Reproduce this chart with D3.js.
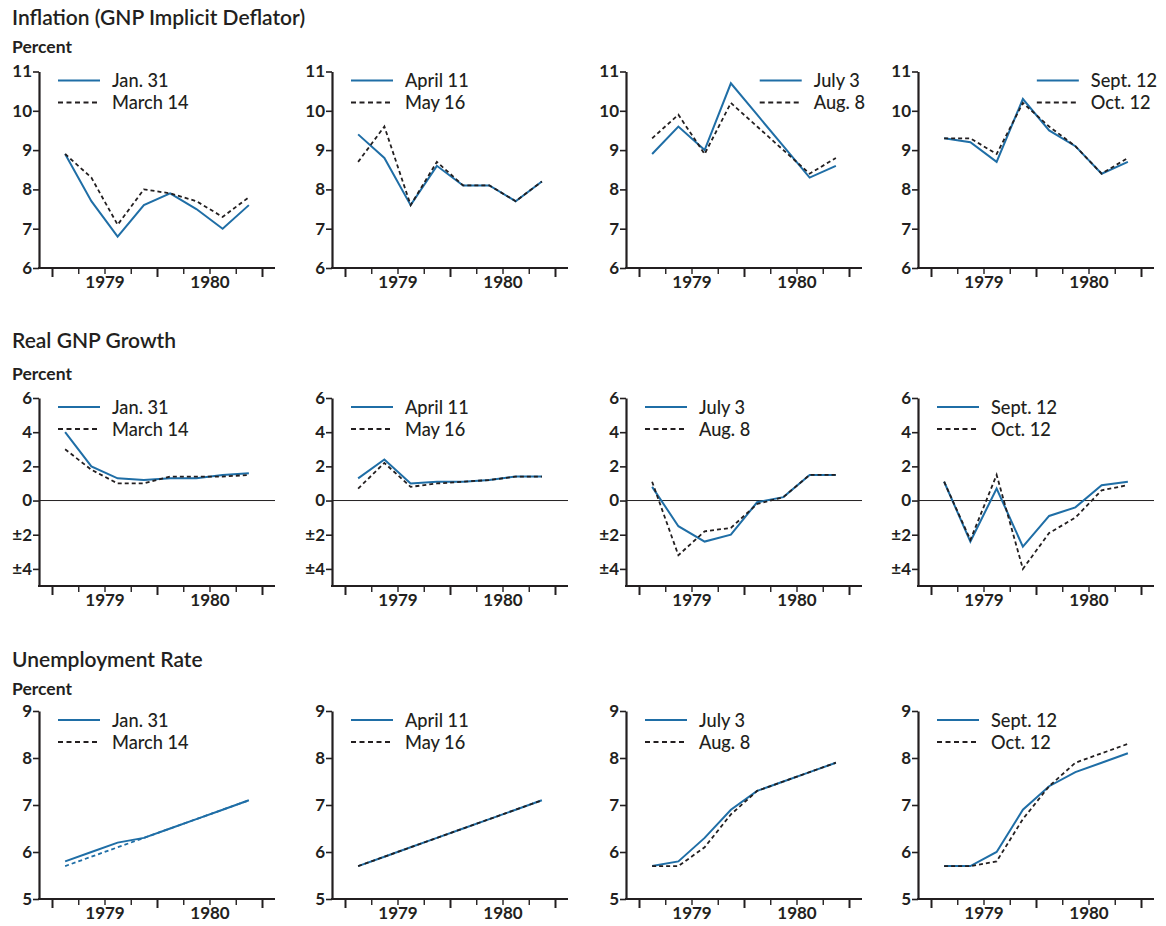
<!DOCTYPE html>
<html>
<head>
<meta charset="utf-8">
<script src="https://cdn.jsdelivr.net/npm/d3@7"></script>
<style>
  body { margin: 0; background: #fff; }
  svg { display: block; font-family: Lato, "Open Sans", sans-serif; }
  .tick text { font-family: Lato, sans-serif; }
</style>
</head>
<body>
<div id="chart"></div>
<script>
// quarters 1979Q1 .. 1980Q4, one value per quarter
var years = ["1979", "1980"];

var inflationTicks = [6, 7, 8, 9, 10, 11];
var gnpTicks = [-4, -2, 0, 2, 4, 6];
var gnpTickLabels = ["±4", "±2", "0", "2", "4", "6"];
var unempTicks = [5, 6, 7, 8, 9];

var forecastPairs = [
  ["Jan. 31", "March 14"],
  ["April 11", "May 16"],
  ["July 3", "Aug. 8"],
  ["Sept. 12", "Oct. 12"]
];

var inflationJan31 = [8.9, 7.7, 6.8, 7.6, 7.9, 7.5, 7.0, 7.6];
var inflationMar14 = [8.9, 8.3, 7.1, 8.0, 7.9, 7.7, 7.3, 7.8];
var inflationApr11 = [9.4, 8.8, 7.6, 8.6, 8.1, 8.1, 7.7, 8.2];
var inflationMay16 = [8.7, 9.6, 7.6, 8.7, 8.1, 8.1, 7.7, 8.2];
var inflationJul3 = [8.9, 9.6, 9.0, 10.7, 9.9, 9.1, 8.3, 8.6];
var inflationAug8 = [9.3, 9.9, 8.9, 10.2, 9.6, 9.0, 8.4, 8.8];
var inflationSep12 = [9.3, 9.2, 8.7, 10.3, 9.5, 9.1, 8.4, 8.7];
var inflationOct12 = [9.3, 9.3, 8.9, 10.2, 9.6, 9.1, 8.4, 8.8];

var gnpJan31 = [4.0, 2.0, 1.3, 1.2, 1.3, 1.3, 1.5, 1.6];
var gnpMar14 = [3.0, 1.8, 1.0, 1.0, 1.4, 1.4, 1.4, 1.5];
var gnpApr11 = [1.3, 2.4, 1.0, 1.1, 1.1, 1.2, 1.4, 1.4];
var gnpMay16 = [0.7, 2.2, 0.8, 1.0, 1.1, 1.2, 1.4, 1.4];
var gnpJul3 = [0.8, -1.5, -2.4, -2.0, -0.1, 0.2, 1.5, 1.5];
var gnpAug8 = [1.1, -3.2, -1.8, -1.6, -0.2, 0.2, 1.5, 1.5];
var gnpSep12 = [1.1, -2.4, 0.7, -2.7, -0.9, -0.4, 0.9, 1.1];
var gnpOct12 = [1.1, -2.3, 1.5, -4.0, -1.9, -1.0, 0.6, 0.9];

var unempJan31 = [5.8, 6.0, 6.2, 6.3, 6.5, 6.7, 6.9, 7.1];
var unempMar14 = [5.7, 5.9, 6.1, 6.3, 6.5, 6.7, 6.9, 7.1];
var unempApr11 = [5.7, 5.9, 6.1, 6.3, 6.5, 6.7, 6.9, 7.1];
var unempMay16 = [5.7, 5.9, 6.1, 6.3, 6.5, 6.7, 6.9, 7.1];
var unempJul3 = [5.7, 5.8, 6.3, 6.9, 7.3, 7.5, 7.7, 7.9];
var unempAug8 = [5.7, 5.7, 6.1, 6.8, 7.3, 7.5, 7.7, 7.9];
var unempSep12 = [5.7, 5.7, 6.0, 6.9, 7.4, 7.7, 7.9, 8.1];
var unempOct12 = [5.7, 5.7, 5.8, 6.7, 7.4, 7.9, 8.1, 8.3];

var rows = [
  {
    title: "Inflation (GNP Implicit Deflator)",
    domain: [6, 11], ticks: inflationTicks, labels: inflationTicks.map(String),
    solid: [inflationJan31, inflationApr11, inflationJul3, inflationSep12],
    dashed: [inflationMar14, inflationMay16, inflationAug8, inflationOct12]
  },
  {
    title: "Real GNP Growth",
    domain: [-5, 6], ticks: gnpTicks, labels: gnpTickLabels, zero: true,
    solid: [gnpJan31, gnpApr11, gnpJul3, gnpSep12],
    dashed: [gnpMar14, gnpMay16, gnpAug8, gnpOct12]
  },
  {
    title: "Unemployment Rate",
    domain: [5, 9], ticks: unempTicks, labels: unempTicks.map(String),
    solid: [unempJan31, unempApr11, unempJul3, unempSep12],
    dashed: [unempMar14, unempMay16, unempAug8, unempOct12]
  }
];

//******************
// Layout
//******************
var width = 1166;
var height = 926;
var blue = "#1f6ea6";
var ink = "#231f20";

var panelX = [39, 332, 626, 918];   // y-axis position of each column
var panelW = 236;                   // length of bottom axis
var rowTop = [71.5, 398, 711];
var rowBottom = [268, 586, 899];
var titleY = [25, 348, 667];
var percentY = [53, 380, 695];

var svg = d3
  .select("#chart")
  .append("svg")
  .attr("width", width)
  .attr("height", height);

var x = d3.scaleLinear().domain([0, 8]).range([13, 223]);

var line = (y) =>
  d3
    .line()
    .x((d, i) => x(i + 0.5))
    .y((d) => y(d));

rows.forEach((row, r) => {
  svg
    .append("text")
    .attr("x", 12)
    .attr("y", titleY[r])
    .attr("font-size", 21)
    .attr("font-weight", 600)
    .attr("fill", ink)
    .text(row.title);
  svg
    .append("text")
    .attr("x", 12)
    .attr("y", percentY[r])
    .attr("font-size", 17.5)
    .attr("font-weight", 700)
    .attr("fill", ink)
    .text("Percent");

  var y = d3.scaleLinear().domain(row.domain).range([rowBottom[r], rowTop[r]]);

  panelX.forEach((px, c) => {
    var g = svg.append("g").attr("transform", `translate(${px},0)`);

    // y axis
    g.append("g")
      .call(
        d3
          .axisLeft(y)
          .tickValues(row.ticks)
          .tickSize(6)
          .tickSizeOuter(0)
          .tickPadding(1)
          .tickFormat((d, i) => row.labels[i])
      )
      .call((g) => g.select(".domain").attr("stroke", ink).attr("stroke-width", 2.2))
      .call((g) => g.selectAll(".tick line").attr("stroke", ink).attr("stroke-width", 1.6))
      .call((g) =>
        g
          .selectAll(".tick text")
          .attr("font-size", 17)
          .attr("font-weight", 700)
          .attr("fill", ink)
      );

    // bottom axis
    var xAxisG = g.append("g").attr("transform", `translate(0,${rowBottom[r]})`);
    xAxisG
      .append("line")
      .attr("x1", -1)
      .attr("x2", panelW)
      .attr("stroke", ink)
      .attr("stroke-width", 2.2);
    xAxisG
      .append("g")
      .call(d3.axisBottom(x).tickValues([0, 4, 8]).tickSize(9).tickFormat(""))
      .call((g) => g.select(".domain").remove())
      .call((g) => g.selectAll(".tick line").attr("stroke", ink).attr("stroke-width", 2));
    xAxisG
      .append("g")
      .call(d3.axisBottom(x).tickValues([1, 2, 3, 5, 6, 7]).tickSize(6).tickFormat(""))
      .call((g) => g.select(".domain").remove())
      .call((g) => g.selectAll(".tick line").attr("stroke", ink).attr("stroke-width", 1.4));
    xAxisG
      .append("g")
      .call(
        d3
          .axisBottom(x)
          .tickValues([2, 6])
          .tickSize(0)
          .tickPadding(8)
          .tickFormat((d, i) => years[i])
      )
      .call((g) => g.select(".domain").remove())
      .call((g) =>
        g
          .selectAll(".tick text")
          .attr("font-size", 17)
          .attr("font-weight", 700)
          .attr("fill", ink)
      );

    if (row.zero) {
      g.append("line")
        .attr("x1", 0)
        .attr("x2", panelW)
        .attr("y1", y(0))
        .attr("y2", y(0))
        .attr("stroke", ink)
        .attr("stroke-width", 1);
    }

    // series
    g.append("path")
      .datum(row.solid[c])
      .attr("fill", "none")
      .attr("stroke", blue)
      .attr("stroke-width", 2)
      .attr("stroke-linejoin", "miter")
      .attr("d", line(y));
    g.append("path")
      .datum(row.dashed[c])
      .attr("fill", "none")
      .attr("stroke", r == 2 && c == 0 ? blue : ink)
      .attr("stroke-width", 1.8)
      .attr("stroke-dasharray", "4,3")
      .attr("d", line(y));

    // legend
    var legend = g.append("g").attr("transform", `translate(0,${rowTop[r] + 9})`);
    forecastPairs[c].forEach((name, k) => {
      var item = legend.append("g").attr("transform", `translate(0,${k * 22})`);
      item
        .append("line")
        .attr("x1", 19)
        .attr("x2", 61)
        .attr("stroke", k == 0 ? blue : ink)
        .attr("stroke-width", k == 0 ? 2 : 1.8)
        .attr("stroke-dasharray", k == 0 ? null : "5,3.5");
      item
        .append("text")
        .attr("x", 73)
        .attr("y", 6.5)
        .attr("font-size", 18.2)
        .attr("font-weight", 500)
        .attr("fill", ink)
        .text(name);
    });
    // first row, right-hand columns: legend sits against the right edge
    if (r == 0 && c >= 2) {
      var w = d3.max(legend.selectAll("text").nodes(), (n) => n.getComputedTextLength());
      legend.attr("transform", `translate(${panelW + 3 - 73 - w},${rowTop[r] + 9})`);
    }
  });
});
</script>
</body>
</html>
